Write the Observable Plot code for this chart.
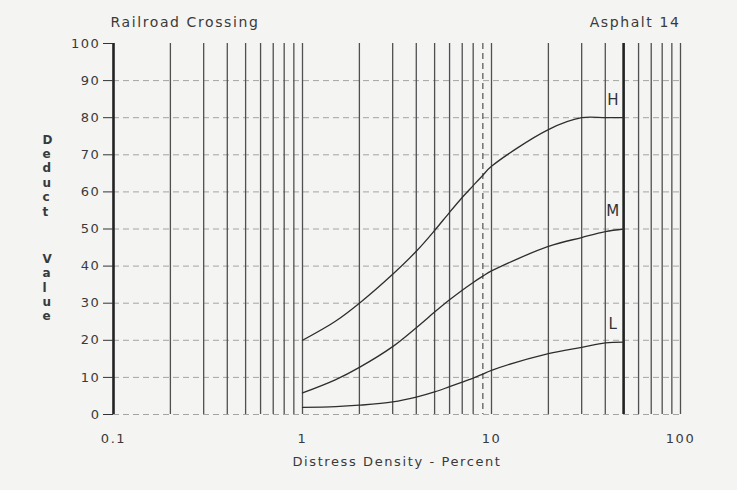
<!DOCTYPE html>
<html>
<head>
<meta charset="utf-8">
<script src="https://cdn.jsdelivr.net/npm/d3@7"></script>
<script src="https://cdn.jsdelivr.net/npm/@observablehq/plot@0.6"></script>
<style>
  body { margin: 0; background: #ffffff; }
  #chart svg text { letter-spacing: 1.6px; }
</style>
</head>
<body>
<div id="chart"></div>
<script>
// ---- data ----
const density = [1, 1.5, 2, 3, 4, 5, 6, 7, 8, 9, 10, 20, 30, 40, 50];
const highValues = [20, 25.2, 30, 37.8, 44, 49.6, 54.5, 58.5, 61.7, 64.5, 66.9, 76.8, 80, 80, 80];
const mediumValues = [5.8, 9.4, 12.7, 18.3, 23.4, 27.6, 30.9, 33.5, 35.6, 37.3, 38.7, 45.3, 47.7, 49.3, 50];
const lowValues = [1.9, 2.1, 2.5, 3.4, 4.7, 6.1, 7.5, 8.7, 9.8, 10.9, 11.9, 16.4, 18.1, 19.3, 19.5];
const severities = ["H", "M", "L"];

const xTicks = [0.1, 1, 10, 100];
const yTicks = [0, 10, 20, 30, 40, 50, 60, 70, 80, 90, 100];
const hGrid = [0, 10, 20, 30, 40, 50, 60, 70, 80, 90];
const vGrid = [0.2, 0.3, 0.4, 0.5, 0.6, 0.7, 0.8, 0.9, 1, 2, 3, 4, 5, 6, 7, 8, 10, 20, 30, 40, 60, 70, 80, 90, 100];
const vGridDashed = [9];
const vGridBold = [0.1, 50];

const titleLeft = "Railroad Crossing";
const titleRight = "Asphalt 14";
const xLabel = "Distress Density - Percent";
const yLabelTop = "Deduct";
const yLabelBottom = "Value";

// ---- build table ----
const seriesValues = [highValues, mediumValues, lowValues];
const data = severities.flatMap((s, i) =>
  density.map((d, j) => ({series: s, density: d, value: seriesValues[i][j]})));
const ends = severities.map((s, i) => ({
  series: s, density: density[density.length - 1],
  value: seriesValues[i][density.length - 1]
}));

const font = "DejaVu Sans";
const ink = "#3a3a3a";

const chart = Plot.plot({
  width: 737,
  height: 490,
  marginLeft: 113,
  marginRight: 57,
  marginTop: 43,
  marginBottom: 76,
  x: {type: "log", domain: [0.1, 100]},
  y: {domain: [0, 100]},
  style: {background: "#f4f4f3", fontFamily: font, fontSize: "13px", color: ink},
  marks: [
    Plot.ruleY(hGrid, {stroke: "#8a8a8a", strokeDasharray: "6,4", strokeOpacity: 0.75}),
    Plot.ruleX(vGrid, {stroke: "#505050", strokeWidth: 1.3}),
    Plot.ruleX(vGridDashed, {stroke: "#505050", strokeWidth: 1.2, strokeDasharray: "6,4"}),
    Plot.ruleX(vGridBold, {stroke: "#222", strokeWidth: 2.6}),
    Plot.axisY({ticks: yTicks, tickSize: 10, tickPadding: 3, label: null, fontSize: 13, stroke: "#333"}),
    Plot.axisX({ticks: xTicks, tickSize: 0, tickPadding: 19, tickFormat: d => String(d), label: null, fontSize: 13}),
    Plot.line(data, {x: "density", y: "value", z: "series", curve: "catmull-rom", stroke: "#2e2e2e", strokeWidth: 1.3}),
    Plot.text(ends, {x: "density", y: "value", text: "series", dx: -10, dy: -18, fontSize: 15, fill: "#333"}),
    Plot.text([titleLeft], {frameAnchor: "top-left", textAnchor: "start", dx: -3, dy: -26, fontSize: 14, fill: ink}),
    Plot.text([titleRight], {frameAnchor: "top-right", textAnchor: "end", dx: 0, dy: -26, fontSize: 14, fill: ink}),
    Plot.text([xLabel], {frameAnchor: "bottom", dy: 51, fontSize: 13, fill: ink}),
    Plot.text([yLabelTop.split("").join("\n")], {frameAnchor: "left", dx: -71, dy: -54, fontSize: 12, fontWeight: "bold", lineHeight: 1.2, fill: ink}),
    Plot.text([yLabelBottom.split("").join("\n")], {frameAnchor: "left", dx: -71, dy: 58, fontSize: 12, fontWeight: "bold", lineHeight: 1.2, fill: ink})
  ]
});
document.getElementById("chart").appendChild(chart);
</script>
</body>
</html>
